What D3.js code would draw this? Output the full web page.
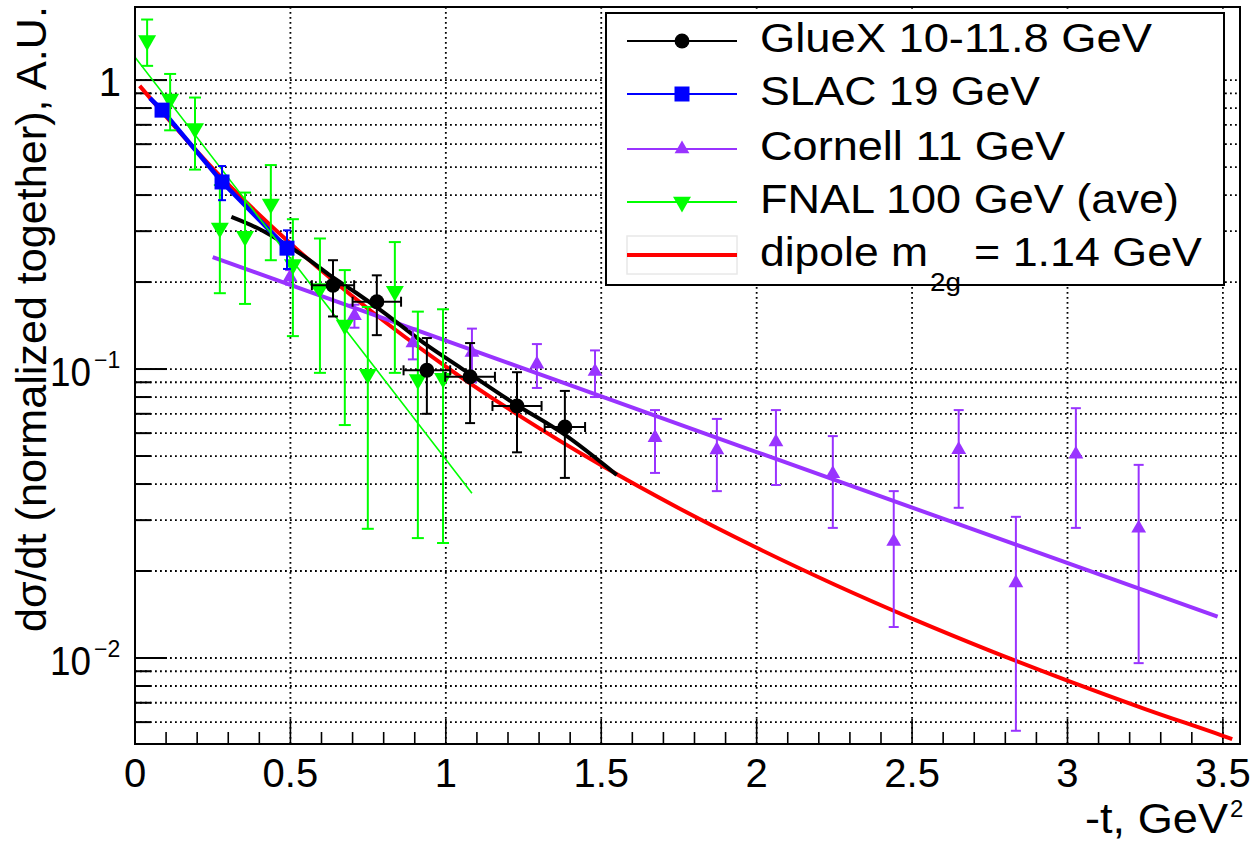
<!DOCTYPE html>
<html><head><meta charset="utf-8">
<script src="https://cdn.jsdelivr.net/npm/d3@7"></script>
<style>
body{margin:0;background:#fff}
text{font-family:"Liberation Sans",Arial,Helvetica,sans-serif;fill:#000}
</style>
</head><body>
<svg id="c" width="1252" height="843"></svg>
<script>
// ---------- data ----------
const xTickValues = [0, 0.5, 1, 1.5, 2, 2.5, 3, 3.5];
const xTickLabels = ["0", "0.5", "1", "1.5", "2", "2.5", "3", "3.5"];
const yDecadeValues = [1, 0.1, 0.01];
const yDecadeExp = ["", "-1", "-2"];

// GlueX 10-11.8 GeV
const gluexT    = [0.637, 0.778, 0.939, 1.078, 1.229, 1.383];
const gluexV    = [0.195, 0.171, 0.099, 0.094, 0.0745, 0.063];
const gluexVErr = [0.043, 0.040, 0.029, 0.029, 0.023, 0.021];
const gluexTErr = [0.068, 0.078, 0.075, 0.080, 0.079, 0.065];
const gluexFitT = [0.31, 0.40, 0.48, 0.55, 0.63, 0.71, 0.79, 0.93, 1.06, 1.22, 1.38, 1.55];
const gluexFitV = [0.336, 0.305, 0.272, 0.243, 0.210, 0.184, 0.160, 0.123, 0.099, 0.076, 0.0595, 0.0430];

// SLAC 19 GeV
const slacT   = [0.087, 0.280, 0.489];
const slacV   = [0.787, 0.444, 0.262];
const slacErr = [0.02, 0.06, 0.04];
const slacFitT = [0.048, 0.087, 0.280, 0.50];
const slacFitV = [0.866, 0.787, 0.444, 0.255];

// Cornell 11 GeV
const cornellT   = [0.499, 0.706, 0.894, 1.084, 1.293, 1.480, 1.673, 1.872, 2.062, 2.245, 2.441, 2.650, 2.834, 3.027, 3.229];
const cornellV   = [0.208, 0.153, 0.123, 0.114, 0.104, 0.098, 0.0579, 0.0525, 0.0559, 0.0434, 0.0253, 0.0526, 0.0182, 0.0507, 0.0281];
const cornellErr = [0.012, 0.014, 0.015, 0.024, 0.018, 0.018, 0.0142, 0.0147, 0.0162, 0.0152, 0.0125, 0.0195, 0.0126, 0.0225, 0.0185];
const cornellFitT = [0.25, 2.0, 3.483];
const cornellFitV = [0.244, 0.0516, 0.0139];

// FNAL 100 GeV (ave)
const fnalT   = [0.039, 0.113, 0.193, 0.273, 0.354, 0.437, 0.508, 0.595, 0.675, 0.749, 0.836, 0.910, 0.991];
const fnalV   = [1.37, 0.86, 0.68, 0.308, 0.288, 0.373, 0.230, 0.190, 0.142, 0.096, 0.186, 0.092, 0.093];
const fnalErr = [0.25, 0.19, 0.19, 0.125, 0.12, 0.135, 0.10, 0.093, 0.078, 0.068, 0.089, 0.066, 0.068];
const fnalFitT = [0, 0.51, 1.084];
const fnalFitV = [1.20, 0.234, 0.0372];

// dipole m_2g = 1.14 GeV
const dipoleT = [0.015, 0.25, 0.5, 0.75, 1.0, 1.25, 1.5, 1.75, 2.0, 2.25, 2.5, 2.75, 3.0, 3.25, 3.5, 3.53];
const dipoleV = [0.955, 0.4947, 0.2720, 0.1616, 0.1020, 0.0675, 0.04644, 0.03298, 0.02407, 0.01797, 0.01369, 0.01061, 0.00835, 0.00666, 0.00538, 0.00524];

const legendLabels = ["GlueX 10-11.8 GeV", "SLAC 19 GeV", "Cornell 11 GeV", "FNAL 100 GeV (ave)"];

// ---------- layout ----------
const L = 135, R = 1240, T = 7, B = 744;
const colBlack = "#000000", colBlue = "#0000ff", colPurple = "#9933ff", colGreen = "#00ff00", colRed = "#ff0000";

const svg = d3.select("#c");
const x = d3.scaleLinear().domain([0, 3.555]).range([L, R]);
const y = d3.scaleLog().domain([0.00504, 1.79]).range([B, T]);

svg.append("defs").append("clipPath").attr("id", "frame")
  .append("rect").attr("x", L).attr("y", T).attr("width", R - L).attr("height", B - T);

// ---------- grid ----------
const grid = svg.append("g").attr("stroke", "#000").attr("stroke-width", 1.8)
  .attr("stroke-dasharray", "1.8,3.2");
xTickValues.filter(v => v > 0).forEach(v => {
  grid.append("line").attr("x1", x(v)).attr("x2", x(v)).attr("y1", T).attr("y2", B);
});
const yMinorVals = [];
[1, 0.1, 0.01, 0.001].forEach(d => { for (let k = 1; k <= 9; k++) yMinorVals.push(d * k); });
const yGridVals = yMinorVals.filter(v => v >= 0.00504 && v <= 1.79);
yGridVals.forEach(v => {
  grid.append("line").attr("x1", L).attr("x2", R).attr("y1", y(v)).attr("y2", y(v));
});

// ---------- axes ticks ----------
const ax = svg.append("g").attr("stroke", "#000").attr("stroke-width", 2);
d3.range(1, 36).map(i => i / 10).forEach(v => {
  const major = Math.abs(v * 2 - Math.round(v * 2)) < 1e-6;
  if (x(v) > R - 1) return;
  ax.append("line").attr("x1", x(v)).attr("x2", x(v)).attr("y1", B).attr("y2", B - (major ? 25 : 12))
    .attr("stroke-width", 1.6);
});
yGridVals.forEach(v => {
  const major = yDecadeValues.some(d => Math.abs(d - v) < 1e-9);
  ax.append("line").attr("x1", L).attr("x2", L + (major ? 32 : 16)).attr("y1", y(v)).attr("y2", y(v))
    .attr("stroke-width", 2);
});

// ---------- tick labels ----------
xTickValues.forEach((v, i) => {
  svg.append("text").attr("x", x(v)).attr("y", 787).attr("text-anchor", "middle")
    .attr("font-size", 40).text(xTickLabels[i]);
});
yDecadeValues.forEach((v, i) => {
  const yy = y(v);
  if (yDecadeExp[i] === "") {
    svg.append("text").attr("x", 121).attr("y", yy + 16).attr("text-anchor", "end")
      .attr("font-size", 40).text("1");
  } else {
    svg.append("text").attr("x", 91).attr("y", yy + 17).attr("text-anchor", "end")
      .attr("font-size", 40).attr("textLength", 41).attr("lengthAdjust", "spacingAndGlyphs").text("10");
    svg.append("text").attr("x", 94).attr("y", yy - 1).attr("text-anchor", "start")
      .attr("font-size", 23).text(yDecadeExp[i].replace("-", "\u2212"));
  }
});

// ---------- axis titles ----------
svg.append("text").attr("x", 1228).attr("y", 833).attr("text-anchor", "end")
  .attr("font-size", 42).attr("textLength", 143).attr("lengthAdjust", "spacingAndGlyphs").text("-t, GeV");
svg.append("text").attr("x", 1230).attr("y", 817).attr("font-size", 24).text("2");
svg.append("text").attr("transform", "translate(46,632) rotate(-90)").attr("text-anchor", "start")
  .attr("font-size", 42).attr("textLength", 626).attr("lengthAdjust", "spacingAndGlyphs")
  .text("d\u03c3/dt (normalized together), A.U.");

// ---------- curves ----------
const plot = svg.append("g").attr("clip-path", "url(#frame)");
const lineGen = d3.line().x(d => x(d[0])).y(d => y(d[1]));
const smooth = d3.line().x(d => x(d[0])).y(d => y(d[1])).curve(d3.curveMonotoneX);
const zip = (a, b) => a.map((v, i) => [v, b[i]]);

plot.append("path").attr("d", smooth(zip(dipoleT, dipoleV))).attr("fill", "none")
  .attr("stroke", colRed).attr("stroke-width", 4);
plot.append("path").attr("d", lineGen(zip(cornellFitT, cornellFitV))).attr("fill", "none")
  .attr("stroke", colPurple).attr("stroke-width", 4);
plot.append("path").attr("d", smooth(zip(gluexFitT, gluexFitV))).attr("fill", "none")
  .attr("stroke", colBlack).attr("stroke-width", 4);
plot.append("path").attr("d", lineGen(zip(slacFitT, slacFitV))).attr("fill", "none")
  .attr("stroke", colBlue).attr("stroke-width", 4.5);
plot.append("path").attr("d", lineGen(zip(fnalFitT, fnalFitV))).attr("fill", "none")
  .attr("stroke", colGreen).attr("stroke-width", 1.6);

// ---------- points with error bars ----------
function drawSeries(T_, V_, E_, TE_, color, symType, symSize, rot, cap, ew) {
  const g = plot.append("g");
  T_.forEach((t, i) => {
    const cx = x(t), cy = y(V_[i]);
    const y1 = y(V_[i] + E_[i]), y2 = y(Math.max(V_[i] - E_[i], 1e-4));
    g.append("line").attr("x1", cx).attr("x2", cx).attr("y1", y1).attr("y2", y2)
      .attr("stroke", color).attr("stroke-width", ew);
    [y1, y2].forEach(yy => g.append("line").attr("x1", cx - cap).attr("x2", cx + cap)
      .attr("y1", yy).attr("y2", yy).attr("stroke", color).attr("stroke-width", ew));
    if (TE_) {
      const x1 = x(t - TE_[i]), x2 = x(t + TE_[i]);
      g.append("line").attr("x1", x1).attr("x2", x2).attr("y1", cy).attr("y2", cy)
        .attr("stroke", color).attr("stroke-width", ew);
      [x1, x2].forEach(xx => g.append("line").attr("x1", xx).attr("x2", xx)
        .attr("y1", cy - cap).attr("y2", cy + cap).attr("stroke", color).attr("stroke-width", ew));
    }
  });
  T_.forEach((t, i) => {
    g.append("path").attr("d", d3.symbol().type(symType).size(symSize)())
      .attr("transform", `translate(${x(t)},${y(V_[i])}) rotate(${rot})`)
      .attr("fill", color);
  });
}
drawSeries(cornellT, cornellV, cornellErr, null, colPurple, d3.symbolTriangle, 95, 0, 5, 2);
drawSeries(fnalT, fnalV, fnalErr, null, colGreen, d3.symbolTriangle, 140, 180, 6, 2);
drawSeries(slacT, slacV, slacErr, null, colBlue, d3.symbolSquare, 225, 0, 4, 2);
drawSeries(gluexT, gluexV, gluexVErr, gluexTErr, colBlack, d3.symbolCircle, 175, 0, 5, 2);

// ---------- frame ----------
svg.append("rect").attr("x", L).attr("y", T).attr("width", R - L).attr("height", B - T)
  .attr("fill", "none").attr("stroke", "#000").attr("stroke-width", 2);

// ---------- legend ----------
const lg = svg.append("g");
lg.append("rect").attr("x", 606).attr("y", 13).attr("width", 618).attr("height", 272)
  .attr("fill", "#fff").attr("stroke", "#000").attr("stroke-width", 2);
const rowsY = [41, 94, 149, 202, 255];
const legColors = [colBlack, colBlue, colPurple, colGreen];
const legSyms = [[d3.symbolCircle, 175, 0], [d3.symbolSquare, 225, 0], [d3.symbolTriangle, 95, 0], [d3.symbolTriangle, 140, 180]];
const legLens = [392, 280, 305, 419];
legendLabels.forEach((lab, i) => {
  const ry = rowsY[i];
  lg.append("line").attr("x1", 627).attr("x2", 737).attr("y1", ry).attr("y2", ry)
    .attr("stroke", legColors[i]).attr("stroke-width", 2);
  lg.append("path").attr("d", d3.symbol().type(legSyms[i][0]).size(legSyms[i][1])())
    .attr("transform", `translate(682,${ry}) rotate(${legSyms[i][2]})`).attr("fill", legColors[i]);
  lg.append("text").attr("x", 760).attr("y", ry + 11).attr("font-size", 40)
    .attr("textLength", legLens[i]).attr("lengthAdjust", "spacingAndGlyphs").text(lab);
});
lg.append("rect").attr("x", 627).attr("y", 236).attr("width", 110).attr("height", 38)
  .attr("fill", "none").attr("stroke", "#e8e8e8").attr("stroke-width", 1.5);
lg.append("line").attr("x1", 627).attr("x2", 737).attr("y1", 255).attr("y2", 255)
  .attr("stroke", colRed).attr("stroke-width", 4);
lg.append("text").attr("x", 760).attr("y", 266).attr("font-size", 40)
  .attr("textLength", 168).attr("lengthAdjust", "spacingAndGlyphs").text("dipole m");
lg.append("text").attr("x", 930).attr("y", 291).attr("font-size", 25)
  .attr("textLength", 31).attr("lengthAdjust", "spacingAndGlyphs").text("2g");
lg.append("text").attr("x", 974).attr("y", 266).attr("font-size", 40)
  .attr("textLength", 228).attr("lengthAdjust", "spacingAndGlyphs").text("= 1.14 GeV");
</script>
</body></html>
